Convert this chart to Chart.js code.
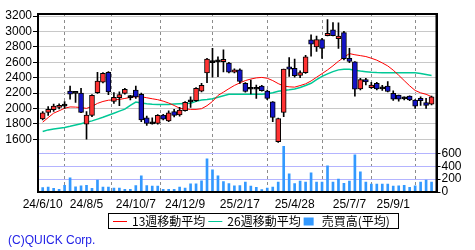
<!DOCTYPE html>
<html>
<head>
<meta charset="utf-8">
<script src="https://cdn.jsdelivr.net/npm/chart.js@4.4.1/dist/chart.umd.min.js"></script>
<style>
  html, body { margin: 0; padding: 0; background: #fff; }
  #wrap { width: 475px; height: 250px; }
</style>
</head>
<body>
<div id="wrap"><canvas id="chart" width="475" height="250"></canvas></div>
<script>
// 週足 (2024/6/10 - 2025/10/20)
const weeks = [
  '24/6/10','24/6/17','24/6/24','24/7/1','24/7/8','24/7/15','24/7/22','24/7/29',
  '24/8/5','24/8/12','24/8/19','24/8/26','24/9/2','24/9/9','24/9/16','24/9/23','24/9/30',
  '24/10/7','24/10/14','24/10/21','24/10/28','24/11/4','24/11/11','24/11/18','24/11/25','24/12/2',
  '24/12/9','24/12/16','24/12/23','24/12/30','25/1/6','25/1/13','25/1/20','25/1/27','25/2/3','25/2/10',
  '25/2/17','25/2/24','25/3/3','25/3/10','25/3/17','25/3/24','25/3/31','25/4/7','25/4/14','25/4/21',
  '25/4/28','25/5/5','25/5/12','25/5/19','25/5/26','25/6/2','25/6/9','25/6/16','25/6/23','25/6/30',
  '25/7/7','25/7/14','25/7/21','25/7/28','25/8/4','25/8/11','25/8/18','25/8/25',
  '25/9/1','25/9/8','25/9/15','25/9/22','25/9/29','25/10/6','25/10/13','25/10/20'
];

const openP = [
  1865,1950,1985,2015,2030,2225,2195,2200,1795,1910,2205,2340,2470,2090,2140,2195,2140,2240,
  2185,1880,1800,1805,1915,1840,1960,1915,1970,2085,2100,2225,2460,2595,2605,2607,2590,2470,
  2500,2325,2250,2250,2290,2225,2085,1570,1950,2540,2520,2430,2465,2890,2800,2895,2945,3020,
  2905,2985,2650,2605,2255,2375,2270,2325,2255,2290,2195,2175,2125,2160,2110,2130,2075,2055
];
const highP = [
  1960,2025,2058,2060,2090,2290,2200,2260,1960,2180,2470,2465,2480,2205,2215,2260,2170,2290,
  2200,1900,1880,1920,1925,1970,1990,2015,2090,2150,2270,2325,2650,2780,2670,2760,2600,2515,
  2515,2335,2370,2304,2300,2240,2090,1875,2510,2660,2640,2490,2690,2955,2940,2910,3155,3115,
  3110,3000,2780,2610,2390,2390,2340,2340,2300,2350,2230,2175,2150,2165,2115,2150,2130,2160
];
const lowP = [
  1850,1910,1962,1995,2000,2120,2080,1945,1600,1895,2195,2330,2180,2066,2035,2185,2110,2130,
  1830,1780,1795,1795,1850,1830,1890,1900,1965,2015,2090,2215,2335,2405,2412,2475,2460,2460,
  2325,2210,2190,2131,2225,2115,1830,1560,1895,2415,2405,2400,2455,2680,2740,2650,2940,2940,
  2780,2630,2595,2160,2240,2305,2260,2240,2235,2215,2105,2095,2110,2100,2000,2040,2000,2045
];
const closeP = [
  1945,1990,2030,2030,2030,2185,2195,1950,1915,2170,2355,2455,2215,2145,2180,2250,2140,2150,
  1850,1805,1800,1910,1860,1945,1910,1980,2080,2085,2260,2300,2640,2595,2605,2638,2470,2500,
  2350,2220,2250,2250,2230,2130,1885,1870,2510,2510,2425,2465,2670,2835,2895,2780,2975,2945,
  2940,2645,2610,2250,2375,2345,2305,2255,2255,2220,2120,2120,2125,2110,2030,2100,2040,2150
];

// 13週・26週移動平均
const ma13 = [
  1822,1882,1939,1970,2003,2020,2018,2012,2001,2027,2066,2091,2107,2112,2118,2130,2144,2152,
  2152,2139,2126,2114,2095,2071,2039,2003,1995,1988,1988,1997,2036,2091,2169,2212,2257,2299,
  2332,2362,2382,2397,2403,2392,2362,2323,2291,2281,2277,2297,2320,2357,2405,2452,2500,2554,
  2613,2664,2712,2697,2686,2674,2652,2627,2591,2552,2497,2431,2362,2294,2234,2203,2184,2153
];
const ma26 = [
  1701,1722,1735,1744,1754,1769,1786,1803,1820,1839,1862,1886,1913,1939,1966,1992,2040,2084,
  2071,2061,2056,2053,2053,2053,2057,2060,2064,2069,2092,2110,2116,2127,2145,2164,2183,2186,
  2183,2183,2183,2183,2186,2192,2205,2223,2234,2242,2253,2273,2298,2327,2375,2417,2449,2478,
  2501,2508,2508,2496,2486,2478,2471,2466,2463,2463,2463,2463,2463,2463,2463,2455,2442,2427
];

// 売買高(平均)
const volume = [
  70,75,55,40,105,220,80,95,105,58,185,75,75,60,60,42,42,100,
  250,100,92,92,42,42,42,78,60,125,128,175,515,342,250,160,130,95,
  100,155,92,72,38,60,76,155,710,280,132,168,155,298,153,153,405,153,
  200,135,168,578,312,153,121,121,121,121,90,95,105,74,95,153,184,153
];

const dateTicks = ['24/6/10','24/8/5','24/10/7','24/12/9','25/2/17','25/4/28','25/7/7','25/9/1'];
const priceTicks = [1600,1800,2000,2200,2400,2600,2800,3000,3200];
const volumeTicks = [0,200,400,600];

const UP = '#ff3333', DOWN = '#1414c8', DOJI = '#000000';
const candleColors = openP.map((o, i) => closeP[i] > o ? UP : (closeP[i] < o ? DOWN : DOJI));

const numFont = { family: "'Liberation Sans', Arial, sans-serif", size: 12 };

// 凡例(枠付き)とコピーライト
const legendBox = {
  id: 'legendBox',
  afterDraw(chart) {
    const ctx = chart.ctx;
    const items = chart.data.datasets.filter(d => d.legendKind);
    const left = 108.5, top = 213.5, h = 15, cy = top + h / 2 + 0.5;
    ctx.save();
    ctx.font = "12px 'Noto Sans CJK JP'";
    ctx.textBaseline = 'middle';
    let x = left + 4.5;
    items.forEach(d => {
      if (d.legendKind === 'line') {
        ctx.strokeStyle = d.borderColor;
        ctx.lineWidth = 1;
        ctx.beginPath();
        ctx.moveTo(x, cy); ctx.lineTo(x + 14, cy);
        ctx.stroke();
        x += 19;
      } else {
        ctx.fillStyle = d.backgroundColor;
        ctx.fillRect(x, cy - 4, 10, 8);
        x += 18;
      }
      ctx.fillStyle = '#000';
      ctx.fillText(d.label, x, cy);
      x += ctx.measureText(d.label).width + 3;
    });
    ctx.strokeStyle = '#000';
    ctx.lineWidth = 1;
    ctx.strokeRect(left, top, Math.round(x + 6 - left), h);

    ctx.font = "12px 'Liberation Sans', Arial, sans-serif";
    ctx.fillStyle = '#2323e6';
    ctx.fillText('(C)QUICK Corp.', 8, 241);
    ctx.restore();
  }
};

// チャート枠
const frame = {
  id: 'frame',
  afterDraw(chart) {
    const { ctx, chartArea: a } = chart;
    ctx.save();
    ctx.strokeStyle = '#000';
    ctx.lineWidth = 2;
    ctx.strokeRect(a.left, a.top, a.right - a.left, a.bottom - a.top);
    ctx.restore();
  }
};

new Chart(document.getElementById('chart'), {
  type: 'bar',
  data: {
    datasets: [
      {
        type: 'bar', label: 'body', order: 0, grouped: false,
        data: openP.map((o, i) => ({ x: i, y: [o, closeP[i]] })),
        backgroundColor: candleColors, borderColor: '#000', borderWidth: 1,
        borderSkipped: false, barThickness: 5, minBarLength: 2, yAxisID: 'y'
      },
      {
        type: 'bar', label: 'wick', order: 1, grouped: false,
        data: lowP.map((l, i) => ({ x: i, y: [l, highP[i]] })),
        backgroundColor: '#000', barThickness: 1, yAxisID: 'y'
      },
      {
        type: 'line', label: '13週移動平均', legendKind: 'line', order: 2,
        data: ma13.map((v, i) => ({ x: i, y: v })),
        borderColor: '#ff0000', borderWidth: 1, pointRadius: 0, tension: 0, yAxisID: 'y'
      },
      {
        type: 'line', label: '26週移動平均', legendKind: 'line', order: 2,
        data: ma26.map((v, i) => ({ x: i, y: v })),
        borderColor: '#00c896', borderWidth: 1.5, pointRadius: 0, tension: 0, yAxisID: 'y'
      },
      {
        type: 'bar', label: '売買高(平均)', legendKind: 'rect', order: 3, grouped: false,
        data: volume.map((v, i) => ({ x: i, y: v })),
        backgroundColor: '#3399ff', barThickness: 2, yAxisID: 'yv'
      }
    ]
  },
  options: {
    responsive: false,
    animation: false,
    layout: { padding: { top: 14, left: 0, right: 0, bottom: 0 } },
    plugins: { legend: { display: false }, tooltip: { enabled: false } },
    scales: {
      x: {
        type: 'linear', min: -0.858, max: 71.9, offset: false,
        afterBuildTicks: s => { s.ticks = dateTicks.map(t => ({ value: weeks.indexOf(t) })); },
        afterFit: s => { s.height = 58; },
        ticks: { callback: v => weeks[v], font: numFont, color: '#000', maxRotation: 0, autoSkip: false, padding: 5 },
        grid: { color: '#8c8c8c', drawTicks: false },
        border: { color: '#000', width: 2, dash: [3, 3] }
      },
      y: {
        position: 'left', min: 916, max: 3226,
        afterBuildTicks: s => { s.ticks = priceTicks.map(v => ({ value: v })); },
        afterFit: s => { s.width = 38; },
        ticks: { callback: v => String(v), font: numFont, color: '#000', padding: 1, autoSkip: false },
        grid: { color: '#c8c8c8', tickColor: '#000', tickLength: 5 },
        border: { color: '#000', width: 2 }
      },
      yv: {
        position: 'right', min: 0, max: 2760,
        afterBuildTicks: s => { s.ticks = volumeTicks.map(v => ({ value: v })); },
        afterFit: s => { s.width = 38.5; },
        ticks: { callback: v => String(v), font: numFont, color: '#000', padding: 1, autoSkip: false },
        grid: { color: '#b4b4ff', tickColor: '#000', tickLength: 4 },
        border: { color: '#000', width: 2 }
      }
    }
  },
  plugins: [frame, legendBox]
});
</script>
</body>
</html>
